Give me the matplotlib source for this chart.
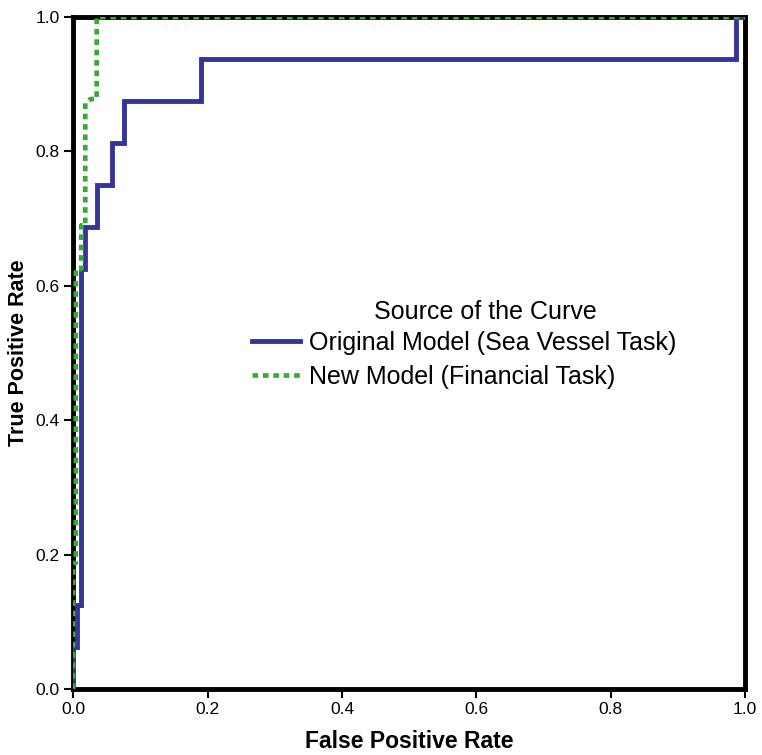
import matplotlib
matplotlib.use('Agg')
import matplotlib.pyplot as plt

# ROC points
fpr_orig = [0, 0, 0.006, 0.006, 0.012, 0.012, 0.018, 0.018, 0.035, 0.035, 0.058, 0.058,
            0.076, 0.076, 0.19, 0.19, 0.986, 0.986, 1.0]
tpr_orig = [0, 0.0625, 0.0625, 0.125, 0.125, 0.625, 0.625, 0.6875, 0.6875, 0.75, 0.75, 0.8125,
            0.8125, 0.875, 0.875, 0.9375, 0.9375, 1.0, 1.0]

fpr_new = [0, 0, 0.004, 0.004, 0.012, 0.012, 0.018, 0.018, 0.026, 0.035, 0.035, 1.0]
tpr_new = [0, 0.1875, 0.1875, 0.625, 0.625, 0.69, 0.69, 0.872, 0.878, 0.878, 1.0, 1.0]

ticks = [0.0, 0.2, 0.4, 0.6, 0.8, 1.0]
tick_labels = ['0.0', '0.2', '0.4', '0.6', '0.8', '1.0']

plt.rcParams['font.family'] = ['Liberation Sans', 'DejaVu Sans']

fig = plt.figure(figsize=(7.62, 7.55), dpi=100)
ax = fig.add_axes([0.096, 0.0874, 0.882, 0.89])

ax.plot(fpr_orig, tpr_orig, color='#35349a', lw=3.5, label='Original Model (Sea Vessel Task)',
        solid_joinstyle='miter', zorder=3)
ax.plot(fpr_new, tpr_new, color='#3aaa35', lw=3.4, linestyle=(0, (1.2, 1.0)),
        label='New Model (Financial Task)', zorder=4)

ax.set_xlim(0, 1)
ax.set_ylim(0, 1)
ax.set_xticks(ticks)
ax.set_xticklabels(tick_labels)
ax.set_yticks(ticks)
ax.set_yticklabels(tick_labels)
ax.tick_params(direction='out', length=6.5, width=1.5, labelsize=12.5, color='black', pad=3)
for s in ax.spines.values():
    s.set_linewidth(3.5)
    s.set_color('black')
    s.set_zorder(2)

ax.set_xlabel('False Positive Rate', fontsize=16.5, fontweight='bold', labelpad=9)
ax.set_ylabel('True Positive Rate', fontsize=15.5, fontweight='bold', labelpad=5)

# legend title placed as its own text (sits right of the legend's centre)
ax.text(0.613, 0.561, 'Source of the Curve', transform=ax.transAxes, ha='center',
        va='center', fontsize=18)
leg = ax.legend(loc='center', bbox_to_anchor=(0.582, 0.49),
                frameon=False, fontsize=18, handlelength=1.9, handletextpad=0.35,
                labelspacing=0.4)

fig.savefig('out.png', dpi=100)
